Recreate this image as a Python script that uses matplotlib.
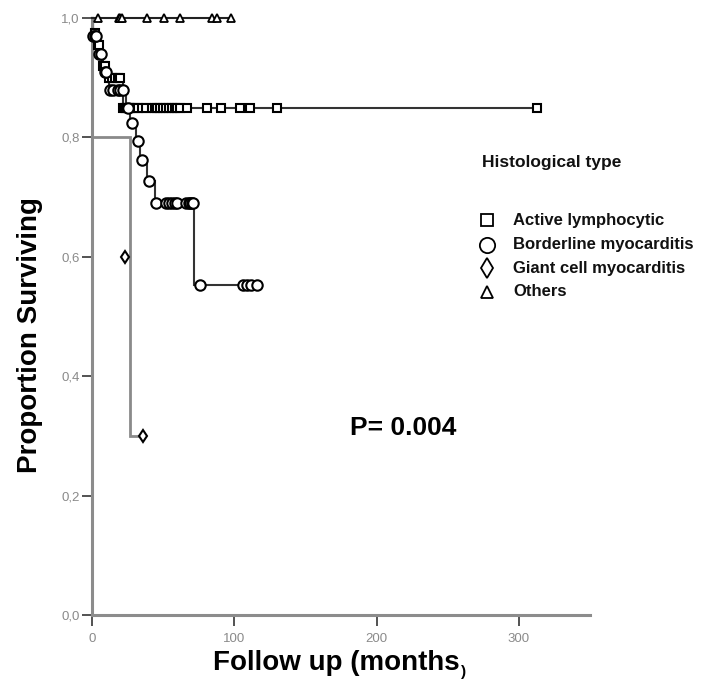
import numpy as np
import matplotlib
matplotlib.use("Agg")
import matplotlib.pyplot as plt
from matplotlib.lines import Line2D

plt.rcParams['font.family'] = ['Liberation Sans', 'DejaVu Sans']

# ---------------- data ----------------
groups = ["Active lymphocytic", "Borderline myocarditis", "Giant cell myocarditis", "Others"]

# Kaplan-Meier step curves (time in months, survival proportion)
active_t = [0, 1, 3, 7, 10, 22, 315]
active_s = [1.0, 0.975, 0.955, 0.92, 0.90, 0.85, 0.85]
active_cens_t = [2, 4, 5, 8, 9, 12, 14, 16, 18, 20, 22, 23, 24, 25, 26, 27, 28, 30, 32, 35,
                 38, 42, 44, 46, 48, 50, 52, 54, 56, 58, 60, 62, 67, 81, 91, 104, 111, 130, 313]
active_cens_s = [0.975, 0.955, 0.955, 0.92, 0.92, 0.90, 0.90, 0.90, 0.90, 0.90, 0.85, 0.85, 0.85,
                 0.85, 0.85, 0.85, 0.85, 0.85, 0.85, 0.85, 0.85, 0.85, 0.85, 0.85, 0.85, 0.85,
                 0.85, 0.85, 0.85, 0.85, 0.85, 0.85, 0.85, 0.85, 0.85, 0.85, 0.85, 0.85, 0.85]

border_t = [0, 1, 4, 8, 12, 24, 27, 31, 34, 39, 44, 72, 116]
border_s = [1.0, 0.97, 0.94, 0.91, 0.88, 0.85, 0.824, 0.794, 0.762, 0.727, 0.69, 0.553, 0.553]
border_cens_t = [1, 2, 3, 5, 6, 9, 10, 13, 15, 18, 20, 22, 25, 28, 32, 35, 40, 45, 52, 54, 56,
                 58, 60, 66, 68, 69, 70, 71, 76, 106, 109, 112, 116]
border_cens_s = [0.97, 0.97, 0.97, 0.94, 0.94, 0.91, 0.91, 0.88, 0.88, 0.88, 0.88, 0.88, 0.85,
                 0.824, 0.794, 0.762, 0.727, 0.69, 0.69, 0.69, 0.69, 0.69, 0.69, 0.69, 0.69,
                 0.69, 0.69, 0.69, 0.553, 0.553, 0.553, 0.553, 0.553]

giant_t = [0, 0, 26.7, 35.8]
giant_s = [1.0, 0.8, 0.3, 0.3]
giant_cens_t = [23, 35.8]
giant_cens_s = [0.6, 0.3]

others_t = [0, 98]
others_s = [1.0, 1.0]
others_cens_t = [4, 19, 20, 21, 39, 50.5, 62, 84, 87.5, 98]
others_cens_s = [1.0, 1.0, 1.0, 1.0, 1.0, 1.0, 1.0, 1.0, 1.0, 1.0]

x_ticks = [0, 100, 200, 300]
y_ticks = [0.0, 0.2, 0.4, 0.6, 0.8, 1.0]
y_tick_labels = ["0,0", "0,2", "0,4", "0,6", "0,8", "1,0"]
p_text = "P= 0.004"

# ---------------- figure ----------------
W, H = 727, 690
fig = plt.figure(figsize=(W / 100, H / 100), dpi=100)
ax = fig.add_axes([92 / W, 1 - 615 / H, (590 - 92) / W, (615 - 18) / H])

ax.set_xlim(0, 350)
ax.set_ylim(0, 1.0)

line_kw = dict(drawstyle='steps-post', solid_joinstyle='miter', zorder=3, clip_on=False)
ax.plot(active_t, active_s, color='#333333', lw=1.5, **line_kw)
ax.plot(border_t, border_s, color='#333333', lw=1.5, **line_kw)
ax.plot(giant_t, giant_s, color='#8a8a8a', lw=2.0, **line_kw)
ax.plot(others_t, others_s, color='#222222', lw=1.5, **line_kw)

mk = dict(linestyle='none', markerfacecolor='white', markeredgecolor='black', zorder=4, clip_on=False)
ax.plot(active_cens_t, active_cens_s, marker='s', markersize=5.2, markeredgewidth=1.5, **mk)
ax.plot(border_cens_t, border_cens_s, marker='o', markersize=7.5, markeredgewidth=1.5, **mk)
ax.plot(giant_cens_t, giant_cens_s, marker='d', markersize=6.5, markeredgewidth=1.5, **mk)
ax.plot(others_cens_t, others_cens_s, marker='^', markersize=6, markeredgewidth=1.3, **mk)

# spines
for s in ['top', 'right']:
    ax.spines[s].set_visible(False)
for s in ['left', 'bottom']:
    ax.spines[s].set_color('#8c8c8c')
    ax.spines[s].set_linewidth(2.2)

ax.set_xticks(x_ticks)
ax.set_xticklabels([str(v) for v in x_ticks])
ax.set_yticks(y_ticks)
ax.set_yticklabels(y_tick_labels)
ax.tick_params(axis='both', direction='out', length=7, width=1.3, color='#444444',
               labelsize=9.5, labelcolor='#8a8a8a', pad=2)
ax.tick_params(axis='x', length=8, pad=5)

# axis labels
fig.text(30 / W, 1 - 335 / H, "Proportion Surviving", rotation=90, ha='center', va='center',
         fontsize=20, fontweight='bold', color='black')
xl = fig.text(213 / W, 1 - 663 / H, "Follow up (months", ha='left', va='center',
              fontsize=20, fontweight='bold', color='black')
fig.canvas.draw()
bb = xl.get_window_extent(renderer=fig.canvas.get_renderer())
fig.text(bb.x1 / (W) + 1 / W, 1 - 672 / H, ")", ha='left', va='center',
         fontsize=11, fontweight='bold', color='black')

# P value
fig.text(350 / W, 1 - 428 / H, p_text, ha='left', va='center', fontsize=19,
         fontweight='bold', color='black')

# legend (manual)
fig.text(482 / W, 1 - 163 / H, "Histological type", ha='left', va='center',
         fontsize=12.5, fontweight='bold', color='#111111')
leg_markers = ['s', 'o', 'd', '^']
leg_sizes = [8, 11, 10, 9]
leg_y = [220, 245, 268, 292]
for m, ms, yy, lab in zip(leg_markers, leg_sizes, leg_y, groups):
    fig.add_artist(Line2D([487 / W], [1 - yy / H], marker=m, markersize=ms,
                          markerfacecolor='white', markeredgecolor='black',
                          markeredgewidth=1.3, linestyle='none',
                          transform=fig.transFigure))
    fig.text(513 / W, 1 - yy / H, lab, ha='left', va='center', fontsize=12,
             fontweight='bold', color='#111111')

fig.savefig("out.png", dpi=100)
